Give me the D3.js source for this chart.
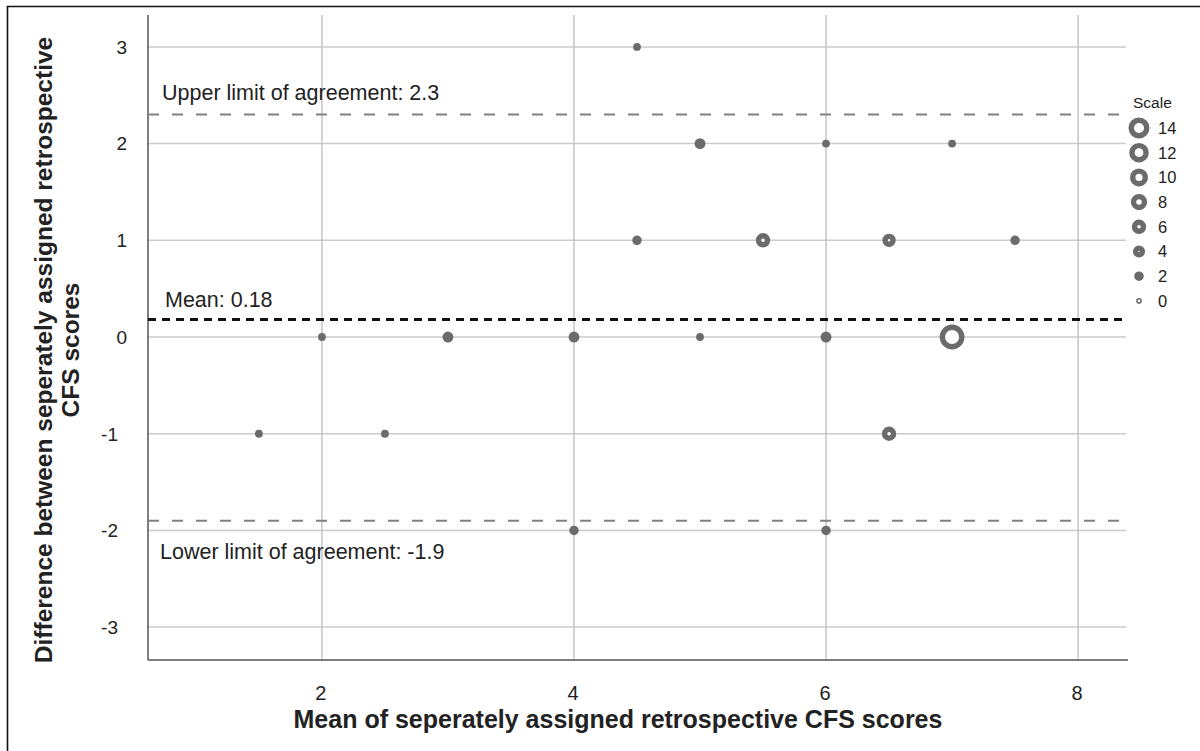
<!DOCTYPE html>
<html><head><meta charset="utf-8">
<script src="https://cdn.jsdelivr.net/npm/d3@7"></script>
<style>body{margin:0;background:#fff}svg{display:block}text{font-family:"Liberation Sans",Arial,sans-serif}</style>
</head><body>
<svg id="c" width="1200" height="751"></svg>
<script>
// Data
const meanScores = [4.5, 5, 6, 7, 4.5, 5.5, 6.5, 7.5, 2, 3, 4, 5, 6, 7, 1.5, 2.5, 6.5, 4, 6];
const diffScores = [3, 2, 2, 2, 1, 1, 1, 1, 0, 0, 0, 0, 0, 0, -1, -1, -1, -2, -2];
const counts     = [1, 3, 1, 1, 2, 6, 5, 2, 1, 3, 3, 1, 3, 20, 1, 1, 6, 2, 2];
const xTicks = [2, 4, 6, 8];
const yTicks = [-3, -2, -1, 0, 1, 2, 3];
const legendValues = [14, 12, 10, 8, 6, 4, 2, 0];
const refLines = [
  {name: "upper", value: 2.3, label: "Upper limit of agreement: 2.3"},
  {name: "mean", value: 0.18, label: "Mean: 0.18"},
  {name: "lower", value: -1.9, label: "Lower limit of agreement: -1.9"}
];

const svg = d3.select("#c");
const L = 148, R = 1126, T = 15, B = 660;
const x = d3.scaleLinear().domain([0.62, 8.38]).range([L, R]);
const y = d3.scaleLinear().domain([-3.34, 3.33]).range([B, T]);
const area = d3.scaleLinear().domain([0, 14]).range([8, 110]);
const rOut = c => Math.sqrt(area(c));
const markColor = "#6b6b6b";

// outer border
svg.append("path").attr("d", "M7.5,760V6.5H1205").attr("fill", "none").attr("stroke", "#111").attr("stroke-width", 1.6);

// grid
svg.append("g").selectAll("line").data(yTicks).join("line")
  .attr("x1", L).attr("x2", R).attr("y1", d => y(d)).attr("y2", d => y(d))
  .attr("stroke", "#cbcbcb").attr("stroke-width", 1.5);
svg.append("g").selectAll("line").data(xTicks).join("line")
  .attr("x1", d => x(d)).attr("x2", d => x(d)).attr("y1", T).attr("y2", B)
  .attr("stroke", "#c4c4c4").attr("stroke-width", 1.5);

// axes lines
svg.append("line").attr("x1", L).attr("x2", L).attr("y1", T).attr("y2", B).attr("stroke", "#555").attr("stroke-width", 1.5);
svg.append("line").attr("x1", L).attr("x2", R + 2).attr("y1", B).attr("y2", B).attr("stroke", "#555").attr("stroke-width", 1.5);

// tick labels
svg.append("g").selectAll("text").data(yTicks).join("text")
  .attr("x", d => d < 0 ? 118 : 127).attr("y", d => y(d)).attr("dy", "0.36em")
  .attr("text-anchor", "end").attr("font-size", 19).attr("fill", "#222").text(d => d);
svg.append("g").selectAll("text").data(xTicks).join("text")
  .attr("x", d => x(d) - 1).attr("y", 700)
  .attr("text-anchor", "middle").attr("font-size", 20).attr("fill", "#222").text(d => d);

// reference lines
refLines.forEach(rl => {
  const isMean = rl.name === "mean";
  svg.append("line").attr("x1", L).attr("x2", R + 2)
    .attr("y1", y(rl.value)).attr("y2", y(rl.value))
    .attr("stroke", isMean ? "#111" : "#808080")
    .attr("stroke-width", isMean ? 3 : 2)
    .attr("stroke-dasharray", isMean ? "8,6" : "11,13");
});
svg.append("text").attr("x", 162).attr("y", y(2.3) - 15).attr("font-size", 21.5).attr("fill", "#222").text(refLines[0].label);
svg.append("text").attr("x", 165).attr("y", y(0.18) - 13).attr("font-size", 21.5).attr("fill", "#222").text(refLines[1].label);
svg.append("text").attr("x", 160).attr("y", y(-1.9) + 38).attr("font-size", 21.5).attr("fill", "#222").text(refLines[2].label);

// markers
function ring(sel, c) {
  const ro = rOut(c);
  const w = c === 0 ? 1.5 : Math.min(ro, 5.4);
  sel.attr("r", ro - w / 2).attr("fill", "#fff").attr("stroke", markColor).attr("stroke-width", w);
}
const pts = meanScores.map((m, i) => ({m, d: diffScores[i], c: counts[i]}));
svg.append("g").selectAll("circle").data(pts).join("circle")
  .attr("cx", d => x(d.m)).attr("cy", d => y(d.d))
  .each(function(d) { ring(d3.select(this), d.c); });

// legend
svg.append("text").attr("x", 1133).attr("y", 108).attr("font-size", 15.5).attr("fill", "#222").text("Scale");
const lg = svg.append("g").selectAll("g").data(legendValues).join("g")
  .attr("transform", (d, i) => `translate(1139,${128 + i * 24.7})`);
lg.append("circle").each(function(d) { ring(d3.select(this), d); });
lg.append("text").attr("x", 19).attr("dy", "0.36em").attr("font-size", 16.5).attr("fill", "#222").text(d => d);

// axis titles
svg.append("text").attr("x", 618).attr("y", 728).attr("text-anchor", "middle")
  .attr("font-size", 25).attr("font-weight", "bold").attr("fill", "#222")
  .text("Mean of seperately assigned retrospective CFS scores");
const yt = svg.append("text").attr("transform", "translate(0,350) rotate(-90)")
  .attr("text-anchor", "middle").attr("font-size", 24.5).attr("font-weight", "bold").attr("fill", "#222");
yt.append("tspan").attr("x", 0).attr("y", 52).text("Difference between seperately assigned retrospective");
yt.append("tspan").attr("x", 0).attr("y", 79).text("CFS scores");
</script>
</body></html>
